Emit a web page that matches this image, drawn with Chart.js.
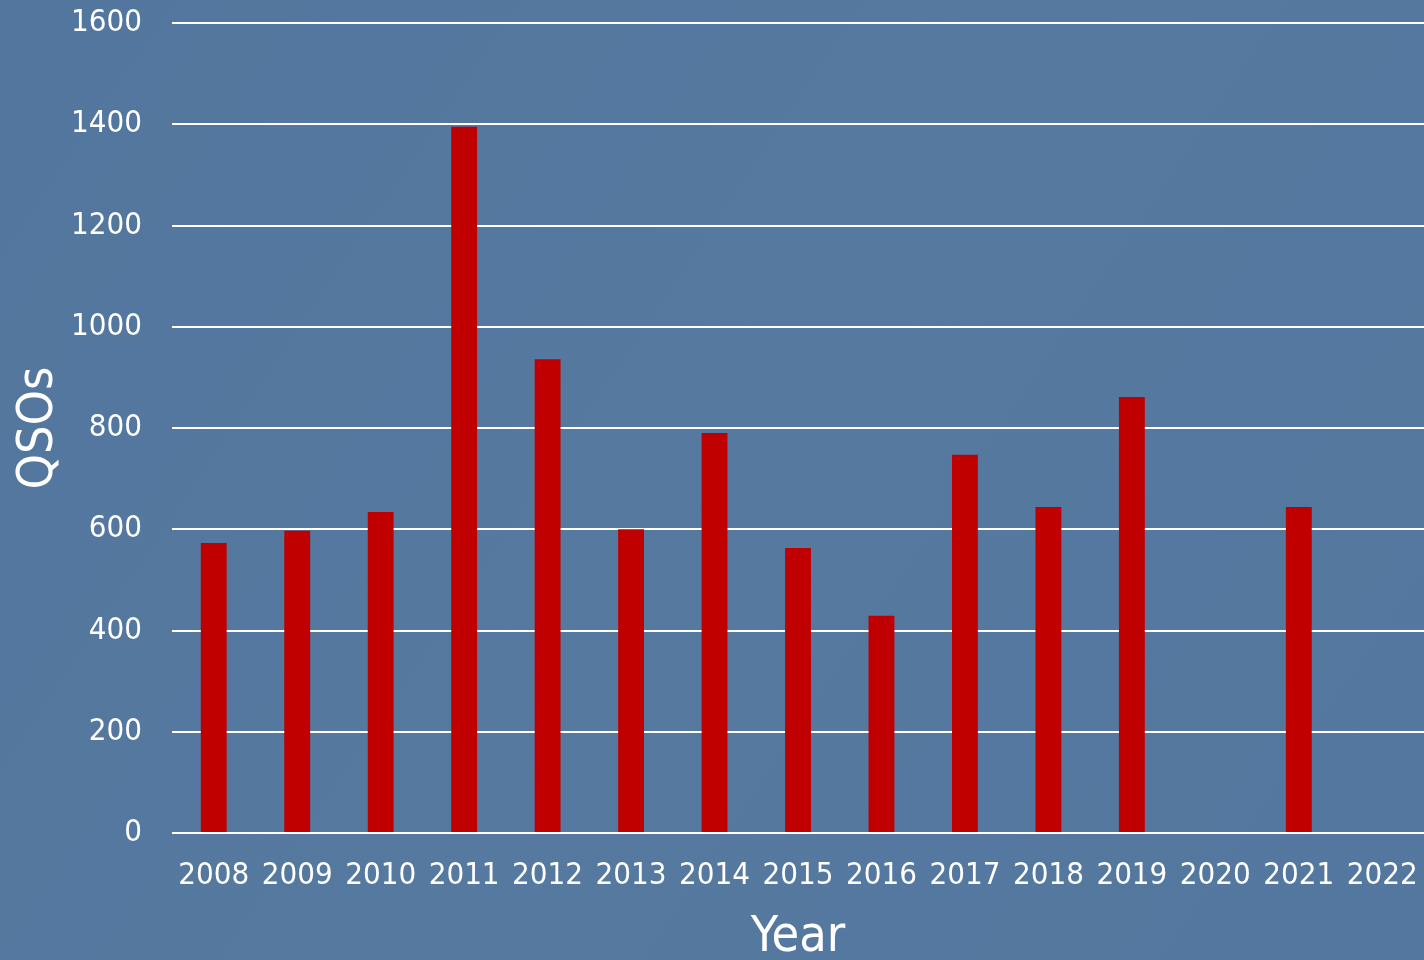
<!DOCTYPE html>
<html>
<head>
<meta charset="utf-8">
<script src="https://cdn.jsdelivr.net/npm/chart.js@4"></script>
<style>
  html, body { margin: 0; padding: 0; background: #55789f; }
  #wrap { width: 1424px; height: 960px; }
</style>
</head>
<body>
<div id="wrap"><canvas id="c" width="1424" height="960"></canvas></div>
<script>
const years = ['2008','2009','2010','2011','2012','2013','2014','2015','2016','2017','2018','2019','2020','2021','2022'];
const qsos = [573, 597, 634, 1395, 936, 600, 790, 563, 429, 747, 644, 861, 0, 644, 0];
const yTicks = [0, 200, 400, 600, 800, 1000, 1200, 1400, 1600];

const FONT = "'DejaVu Sans Condensed', 'DejaVu Sans', sans-serif";

const bgPlugin = {
  id: 'bg',
  beforeDraw(chart) {
    const ctx = chart.ctx;
    ctx.save();
    const g = ctx.createLinearGradient(0, 0, chart.width, chart.height);
    g.addColorStop(0, '#52769d');
    g.addColorStop(0.5, '#5679a0');
    g.addColorStop(1, '#53779e');
    ctx.fillStyle = g;
    ctx.fillRect(0, 0, chart.width, chart.height);
    ctx.restore();
  }
};

new Chart(document.getElementById('c'), {
  type: 'bar',
  data: {
    labels: years,
    datasets: [{
      data: qsos,
      backgroundColor: '#c00000',
      borderWidth: 0,
      categoryPercentage: 1,
      barPercentage: 0.31
    }]
  },
  options: {
    responsive: false,
    animation: false,
    devicePixelRatio: 1,
    layout: { autoPadding: false, padding: { top: 23, right: 0, left: 0, bottom: 0 } },
    plugins: { legend: { display: false }, tooltip: { enabled: false } },
    scales: {
      x: {
        grid: { display: false, drawTicks: false },
        border: { display: false },
        ticks: { color: '#ffffff', font: { family: FONT, size: 31 }, padding: 24, maxRotation: 0, autoSkip: false },
        title: { display: true, text: 'Year', color: '#ffffff', font: { family: FONT, size: 50 }, padding: { top: 18, bottom: -8 } },
        afterFit(scale) {
          scale.height = 127;
          scale.paddingLeft = 0; scale.paddingRight = 0;
        }
      },
      y: {
        min: 0, max: 1600,
        afterBuildTicks(scale) { scale.ticks = yTicks.map(v => ({ value: v })); },
        grid: { color: '#ffffff', lineWidth: 2, drawTicks: false },
        border: { display: false },
        ticks: { color: '#ffffff', font: { family: FONT, size: 31 }, padding: 30, callback: (v) => String(v) },
        title: { display: true, text: 'QSOs', color: '#ffffff', font: { family: FONT, size: 50 }, padding: { top: 9, bottom: 0 } },
        afterFit(scale) {
          scale.width = 172;
          scale.paddingTop = 0; scale.paddingBottom = 0;
        }
      }
    }
  },
  plugins: [bgPlugin]
});
</script>
</body>
</html>
